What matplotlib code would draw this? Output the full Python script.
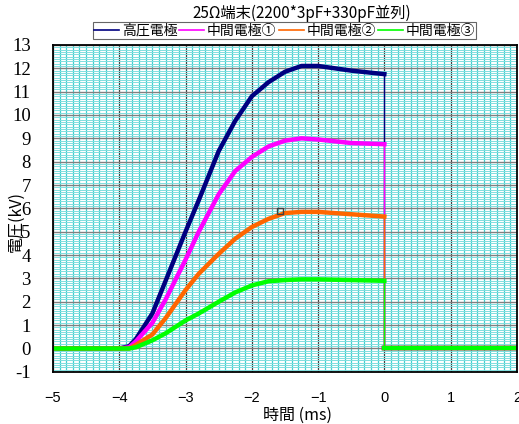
import matplotlib
matplotlib.use("Agg")
import matplotlib.pyplot as plt
from matplotlib.ticker import MultipleLocator

plt.rcParams['font.family'] = ['Noto Sans CJK JP', 'DejaVu Sans']
plt.rcParams['axes.unicode_minus'] = True

# ── データ ──────────────────────────────────────────
t_ms = [-5.0, -4.0, -3.85, -3.75, -3.5, -3.3, -3.0, -2.8, -2.5, -2.25,
        -2.0, -1.75, -1.5, -1.25, -1.0, -0.5, 0.0]
v_high = [0.0, 0.0, 0.1, 0.4, 1.5, 2.9, 5.0, 6.35, 8.45, 9.75,
          10.8, 11.4, 11.85, 12.1, 12.1, 11.9, 11.75]
v_mid1 = [0.0, 0.0, 0.05, 0.3, 1.1, 2.1, 3.8, 5.0, 6.6, 7.6,
          8.2, 8.65, 8.9, 9.0, 8.95, 8.8, 8.75]
v_mid2 = [0.0, 0.0, 0.0, 0.15, 0.6, 1.3, 2.5, 3.2, 4.05, 4.7,
          5.2, 5.55, 5.8, 5.85, 5.85, 5.75, 5.65]
v_mid3 = [0.0, 0.0, 0.0, 0.05, 0.35, 0.65, 1.2, 1.5, 2.0, 2.4,
          2.7, 2.88, 2.93, 2.96, 2.96, 2.93, 2.9]
# 0 ms 以降（遮断後）
t_post = [0.0, 2.0]
v_post = [0.0, 0.0]
labels = ["高圧電極", "中間電極①", "中間電極②", "中間電極③"]
colors = ["#000080", "#ff00ff", "#ff6600", "#00ff00"]
marker_pt = (-1.58, 5.9)
y_ticks = list(range(-1, 14))
x_ticks = list(range(-5, 3))

fig = plt.figure(figsize=(5.19, 4.24), dpi=100)
ax = fig.add_axes([0.102, 0.123, 0.894, 0.771])

for v, lab, col in zip([v_high, v_mid1, v_mid2, v_mid3], labels, colors):
    ax.plot(t_ms, v, color=col, lw=3.2, solid_joinstyle="round", label=lab)
    ax.plot([t_ms[-1], t_post[0]], [v[-1], v_post[0]], color=col, lw=1.0)
    ax.plot(t_post, v_post, color=col, lw=3.2)
ax.plot(*marker_pt, "s", ms=4.5, mfc="none", mec="#404040", mew=1.0)

ax.set_xlim(-5, 2)
ax.set_ylim(-1, 13)
ax.set_xticks(x_ticks)
ax.set_xticklabels([f"{x}".replace("-", "\u2212") for x in x_ticks],
                   fontsize=10.5, fontfamily="Liberation Sans")
ax.set_yticks(y_ticks)
ax.set_yticklabels([str(y) for y in y_ticks], fontsize=13.5,
                   fontfamily="Liberation Serif")
ax.xaxis.set_minor_locator(MultipleLocator(0.1))
ax.yaxis.set_minor_locator(MultipleLocator(0.1))
ax.grid(which="minor", axis="x", color="#40d0d0", lw=0.9)
ax.grid(which="minor", axis="y", color="#80dede", lw=0.7)
ax.grid(which="major", axis="x", color="#404040", lw=0.9)
ax.grid(which="major", axis="y", color="#808080", lw=1.0)
ax.set_axisbelow(True)
for s in ax.spines.values():
    s.set_linewidth(1.3)
    s.set_color("black")

ax.tick_params(which="both", length=0)
ax.tick_params(axis="x", pad=14)
ax.tick_params(axis="y", pad=16)

ax.set_xlabel("時間 (ms)", fontsize=11.5)
ax.xaxis.set_label_coords(0.528, -0.108)
ax.xaxis.label.set_va("top")
ax.set_ylabel("電圧(kV)", fontsize=11.5)
ax.yaxis.set_label_coords(-0.062, 0.46)

fig.text(0.582, 0.968, "25Ω端末(2200*3pF+330pF並列)", ha="center", va="center",
         fontsize=11)

leg = ax.legend(loc="center", bbox_to_anchor=(0.499, 1.043), ncol=4, fontsize=10,
                frameon=True, fancybox=False, borderpad=0.1, handlelength=1.8,
                handletextpad=0.2, columnspacing=0.15, borderaxespad=0)
leg.get_frame().set_edgecolor("#404040")
leg.get_frame().set_linewidth(0.8)
for h in leg.get_lines():
    h.set_linewidth(1.2)

fig.savefig("out.png", dpi=100)
